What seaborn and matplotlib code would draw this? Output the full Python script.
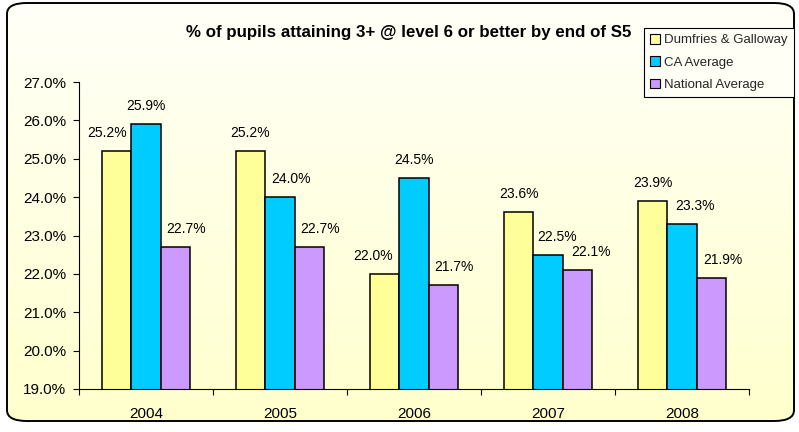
import numpy as np
import pandas as pd
import matplotlib
matplotlib.use("Agg")
import matplotlib.pyplot as plt
from matplotlib.patches import FancyBboxPatch, Patch
from matplotlib.ticker import FixedLocator, FuncFormatter
import seaborn as sns

# ---- data ----
years = ["2004", "2005", "2006", "2007", "2008"]
series = ["Dumfries & Galloway", "CA Average", "National Average"]
dumfries = [25.2, 25.2, 22.0, 23.6, 23.9]
ca_average = [25.9, 24.0, 24.5, 22.5, 23.3]
national_average = [22.7, 22.7, 21.7, 22.1, 21.9]
y_ticks = [19.0, 20.0, 21.0, 22.0, 23.0, 24.0, 25.0, 26.0, 27.0]
title = "% of pupils attaining 3+ @ level 6 or better by end of S5"

# ---- styling ----
colors = ["#FFFF99", "#00CCFF", "#CC99FF"]
# horizontal nudges (pixels) of the value labels, one row per series
label_dx = [[-9, 0, -11, 0, 0],
            [0, 11, 0, 9, 13],
            [11, 11, 10, 14, 11]]
label_dy = 18  # pixels above the bar top

sns.set_theme(style="ticks")
plt.rcParams["font.family"] = ["Liberation Sans", "DejaVu Sans"]

W, H = 799, 432
fig = plt.figure(figsize=(W / 100, H / 100), dpi=100)
fig.patch.set_facecolor("white")

# rounded chart-area frame with a soft vertical gradient
frame = FancyBboxPatch((7 / W, 11 / H), 787 / W, 418 / H,
                       boxstyle="round,pad=0,rounding_size=0.025",
                       transform=fig.transFigure, facecolor="none",
                       edgecolor="black", linewidth=1.4, zorder=5)
bg = fig.add_axes([0, 0, 1, 1], zorder=-10)
bg.set_axis_off()
grad = np.linspace(0, 1, 256).reshape(-1, 1)
top = np.array([1.0, 1.0, 0.975])
bot = np.array([1.0, 1.0, 0.80])
img = top[None, None, :] * (1 - grad[..., None]) + bot[None, None, :] * grad[..., None]
im = bg.imshow(img, extent=[0, 1, 0, 1], aspect="auto", origin="upper",
               transform=fig.transFigure)
bg_clip = FancyBboxPatch((7 / W, 11 / H), 787 / W, 418 / H,
                         boxstyle="round,pad=0,rounding_size=0.025",
                         transform=fig.transFigure, facecolor="none")
im.set_clip_path(bg_clip)
fig.patches.append(frame)

# ---- bar chart ----
df = pd.DataFrame({
    "year": years * 3,
    "series": [series[0]] * 5 + [series[1]] * 5 + [series[2]] * 5,
    "value": dumfries + ca_average + national_average,
})

ax = fig.add_axes([79 / W, 1 - 389 / H, 670 / W, 307 / H])
ax.set_facecolor("none")
sns.barplot(data=df, x="year", y="value", hue="series", order=years,
            hue_order=series, palette=colors, width=0.66, errorbar=None,
            edgecolor="black", linewidth=1.1, saturation=1, ax=ax,
            legend=False)

ax.set_ylim(19, 27)
ax.set_xlim(-0.5, 4.5)
ax.yaxis.set_major_locator(FixedLocator(y_ticks))
ax.yaxis.set_major_formatter(FuncFormatter(lambda v, _: f"{v:.1f}%"))
ax.set_xticks(range(len(years)))
ax.set_xticklabels(years)
ax.xaxis.set_minor_locator(FixedLocator(np.arange(-0.5, len(years), 1.0)))
ax.tick_params(axis="x", which="major", length=0, pad=13, labelsize=11,
               colors="black")
ax.tick_params(axis="x", which="minor", length=4, width=0.8, direction="out",
               color="black")
ax.tick_params(axis="y", length=4, width=0.8, direction="out", pad=5,
               labelsize=11, colors="black")
ax.set_xlabel("")
ax.set_ylabel("")
for side in ("top", "right"):
    ax.spines[side].set_visible(False)
for side in ("left", "bottom"):
    ax.spines[side].set_color("black")
    ax.spines[side].set_linewidth(0.8)

# value labels
all_values = [dumfries, ca_average, national_average]
for s_idx, container in enumerate(ax.containers):
    for y_idx, bar in enumerate(container):
        val = all_values[s_idx][y_idx]
        xc = bar.get_x() + bar.get_width() / 2
        ax.annotate(f"{val:.1f}%", xy=(xc, val),
                    xytext=(label_dx[s_idx][y_idx] * 0.72, label_dy * 0.72),
                    textcoords="offset points", ha="center", va="center",
                    fontsize=10, color="black", annotation_clip=False)

# title
fig.text(409 / W, 1 - 33 / H, title, ha="center", va="center",
         fontsize=12.2, fontweight="bold", color="black")

# legend
handles = [Patch(facecolor=c, edgecolor="black", linewidth=0.8) for c in colors]
leg = fig.legend(handles, series, loc="upper left",
                 bbox_to_anchor=(644 / W, 1 - 28 / H), frameon=True,
                 fancybox=False, edgecolor="black", facecolor="#FFFFF6",
                 framealpha=1, fontsize=9.5, handlelength=0.75,
                 handleheight=0.75, borderpad=0.45, labelspacing=0.75,
                 handletextpad=0.35, borderaxespad=0)
leg.get_frame().set_linewidth(0.8)

fig.savefig("out.png", dpi=100)
